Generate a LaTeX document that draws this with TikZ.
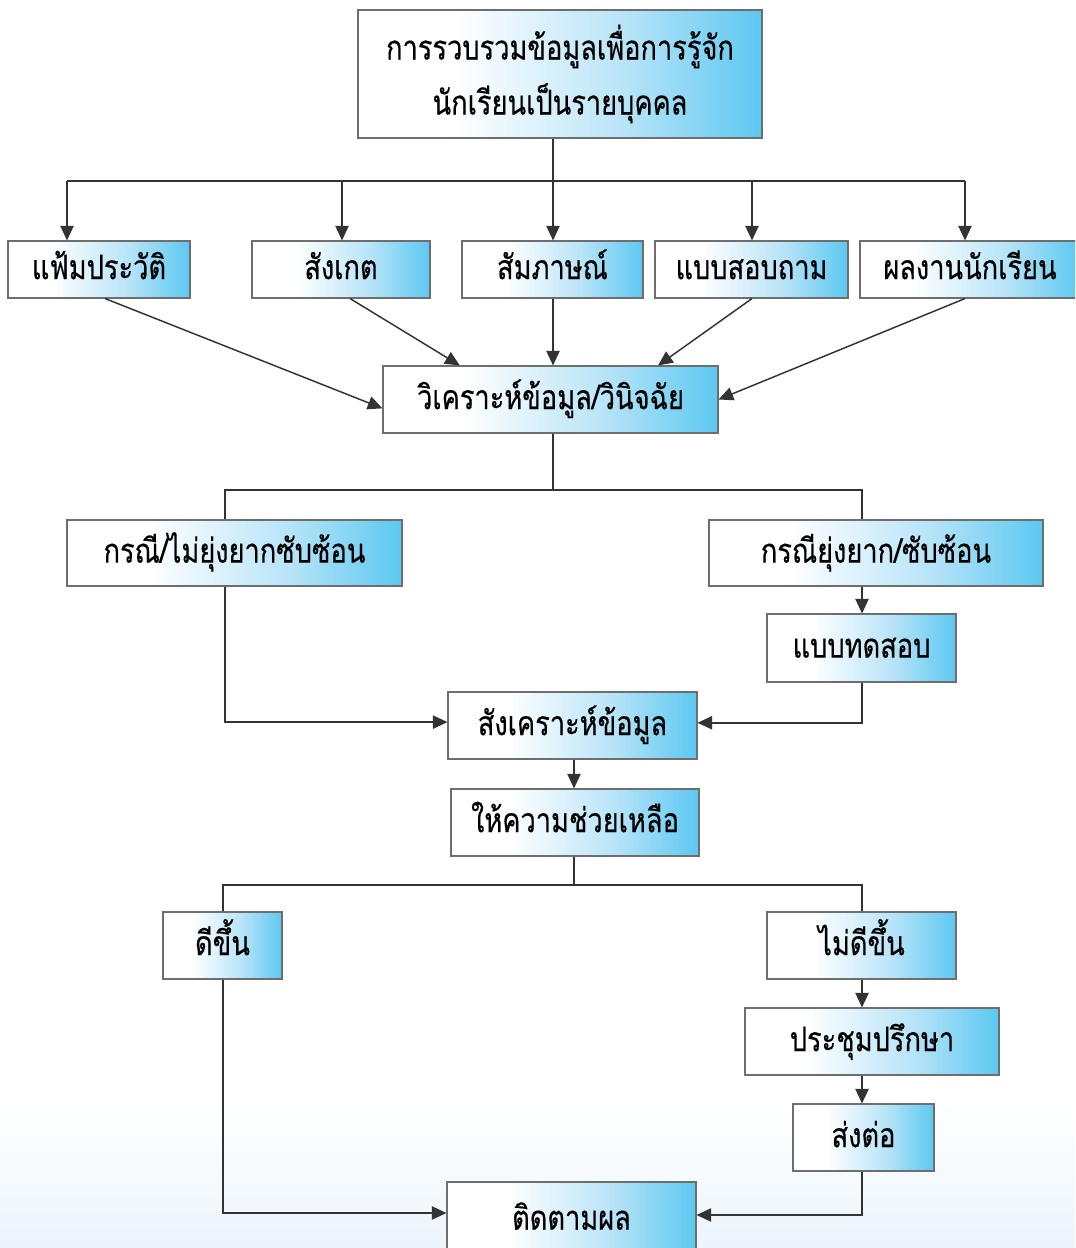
\documentclass[tikz,border=0pt]{standalone}
\usepackage{fontspec}
\newfontfamily\thaifont[Script=Thai,FakeBold=0.4,FakeStretch=0.8]{Loma}
\usetikzlibrary{arrows.meta,calc}
\definecolor{boxcyan}{HTML}{5CC8F1}
\definecolor{boxmid}{HTML}{B8E4F8}
\definecolor{linegray}{HTML}{333333}
\definecolor{bordergray}{HTML}{6E6E6E}
\definecolor{bgblue}{HTML}{ECF5FB}
\pgfdeclarehorizontalshading{boxshade}{100bp}{color(0bp)=(white); color(25bp)=(white); color(37bp)=(white); color(58bp)=(boxmid); color(75bp)=(boxcyan); color(100bp)=(boxcyan)}
\tikzset{
  fbox/.style={draw=bordergray, line width=0.8pt, shading=boxshade, inner sep=0pt,
    font=\thaifont\fontsize{25.5}{30}\selectfont, text=black, align=center},
  sbox/.style={fbox, text height=1.45em, text depth=0pt},
  conn/.style={draw=linegray, line width=1.1pt},
  arr/.style={conn, -{Triangle[length=11pt,width=10pt]}},
}
\begin{document}
\begin{tikzpicture}[x=0.75pt,y=-0.75pt]
\useasboundingbox (0,0) rectangle (1075,1248);
\clip (0,0) rectangle (1075,1248);
\shade[top color=white, bottom color=white] (0,0) rectangle (1075,1100);
\shade[top color=white, bottom color=bgblue] (0,1100) rectangle (1075,1248);

% boxes
\node[fbox, minimum width=404*0.75pt, minimum height=128*0.75pt] (top) at (560,74) {การรวบรวมข้อมูลเพื่อการรู้จัก\\[10pt]นักเรียนเป็นรายบุคคล};

\node[sbox, minimum width=182*0.75pt, minimum height=57*0.75pt] (f1) at (99,269.5) {แฟ้มประวัติ};
\node[sbox, minimum width=178*0.75pt, minimum height=57*0.75pt] (f2) at (341,269.5) {สังเกต};
\node[sbox, minimum width=181*0.75pt, minimum height=57*0.75pt] (f3) at (552.5,269.5) {สัมภาษณ์};
\node[sbox, minimum width=193*0.75pt, minimum height=57*0.75pt] (f4) at (751.5,269.5) {แบบสอบถาม};
\node[sbox, minimum width=220*0.75pt, minimum height=57*0.75pt] (f5) at (970,269.5) {ผลงานนักเรียน};

\node[sbox, minimum width=335*0.75pt, minimum height=67*0.75pt] (ana) at (550.5,399.5) {วิเคราะห์ข้อมูล/วินิจฉัย};

\node[sbox, minimum width=335*0.75pt, minimum height=66*0.75pt] (easy) at (234.5,553) {กรณี/ไม่ยุ่งยากซับซ้อน};
\node[sbox, minimum width=334*0.75pt, minimum height=66*0.75pt] (hard) at (876,553) {กรณียุ่งยาก/ซับซ้อน};
\node[sbox, minimum width=189*0.75pt, minimum height=68*0.75pt] (test) at (861.5,648) {แบบทดสอบ};

\node[sbox, minimum width=249*0.75pt, minimum height=67*0.75pt] (syn) at (572.5,725.5) {สังเคราะห์ข้อมูล};
\node[sbox, minimum width=248*0.75pt, minimum height=67*0.75pt] (help) at (575,822.5) {ให้ความช่วยเหลือ};

\node[sbox, minimum width=119*0.75pt, minimum height=67*0.75pt] (better) at (222.5,945.5) {ดีขึ้น};
\node[sbox, minimum width=189*0.75pt, minimum height=67*0.75pt] (notbetter) at (861.5,945.5) {ไม่ดีขึ้น};
\node[sbox, minimum width=254*0.75pt, minimum height=67*0.75pt] (meet) at (872,1041.5) {ประชุมปรึกษา};
\node[sbox, minimum width=141*0.75pt, minimum height=67*0.75pt] (refer) at (863.5,1137.5) {ส่งต่อ};
\node[sbox, minimum width=249*0.75pt, minimum height=76*0.75pt] (follow) at (571.5,1220) {ติดตามผล};

% top distribution
\coordinate (bar) at (553,181);
\coordinate (b1) at (67,181);
\coordinate (b2) at (342,181);
\coordinate (b4) at (752,181);
\coordinate (b5) at (965,181);
\draw[conn] (top.south -| bar) -- (bar);
\draw[conn] (b1) -- (b5);
\draw[arr] (b1) -- (f1.north -| b1);
\draw[arr] (b2) -- (f2.north -| b2);
\draw[arr] (bar) -- (f3.north -| bar);
\draw[arr] (b4) -- (f4.north -| b4);
\draw[arr] (b5) -- (f5.north -| b5);

% into analysis
\draw[arr] ($(f1.south)+(6,0)$) -- ($(ana.north west)!0.63!(ana.south west)$);
\draw[arr] ($(f2.south)+(9,0)$) -- ($(ana.north west)!0.23!(ana.north east)$);
\draw[arr] (f3.south -| bar) -- (ana.north -| bar);
\draw[arr] (f4.south -| b4) -- ($(ana.north west)!0.82!(ana.north east)$);
\draw[arr] (f5.south -| b5) -- (ana.east);

% split to cases
\coordinate (bar2) at (553,490);
\draw[conn] (ana.south -| bar2) -- (bar2);
\draw[conn] (easy.north -| 225,0) |- (bar2) -| (hard.north -| 862,0);

\draw[arr] (hard.south -| 862,0) -- (test.north -| 862,0);
\draw[arr] (easy.south -| 225,0) |- ($(syn.north west)!0.45!(syn.south west)$);
\draw[arr] (test.south -| 862,0) |- ($(syn.north east)!0.46!(syn.south east)$);

\draw[arr] (syn.south -| 574,0) -- (help.north -| 574,0);

% split to outcomes
\coordinate (bar3) at (574,885);
\draw[conn] (help.south -| bar3) -- (bar3);
\draw[conn] (better.north -| 223,0) |- (bar3) -| (notbetter.north -| 862,0);

\draw[arr] (notbetter.south -| 862,0) -- (meet.north -| 862,0);
\draw[arr] (meet.south -| 862,0) -- (refer.north -| 862,0);
\draw[arr] (better.south -| 223,0) |- (follow.west |- 0,1213);
\draw[arr] (refer.south -| 862,0) |- (follow.east |- 0,1215);
\end{tikzpicture}
\end{document}
